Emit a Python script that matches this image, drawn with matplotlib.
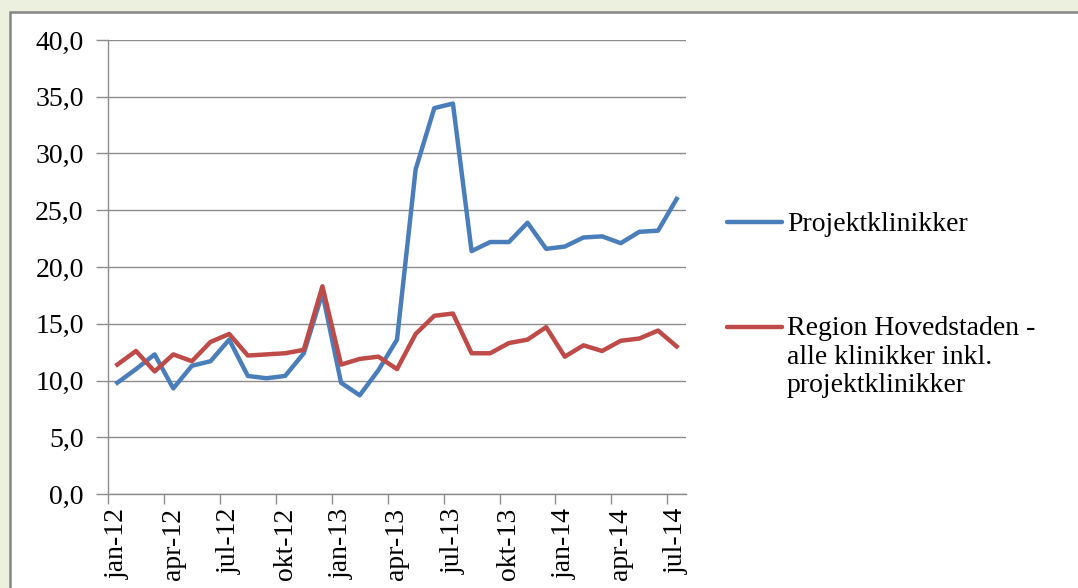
import matplotlib
matplotlib.use("Agg")
import matplotlib.pyplot as plt
from matplotlib.patches import Rectangle
from matplotlib.lines import Line2D

# ---------- Data ----------
months = ["jan-12", "feb-12", "mar-12", "apr-12", "maj-12", "jun-12",
          "jul-12", "aug-12", "sep-12", "okt-12", "nov-12", "dec-12",
          "jan-13", "feb-13", "mar-13", "apr-13", "maj-13", "jun-13",
          "jul-13", "aug-13", "sep-13", "okt-13", "nov-13", "dec-13",
          "jan-14", "feb-14", "mar-14", "apr-14", "maj-14", "jun-14",
          "jul-14"]
projekt = [9.8, 11.0, 12.3, 9.3, 11.3, 11.7, 13.6, 10.4, 10.2, 10.4,
           12.4, 17.7, 9.8, 8.7, 10.9, 13.6, 28.6, 34.0, 34.4, 21.4,
           22.2, 22.2, 23.9, 21.6, 21.8, 22.6, 22.7, 22.1, 23.1, 23.2,
           26.0]
region = [11.4, 12.6, 10.8, 12.3, 11.7, 13.4, 14.1, 12.2, 12.3, 12.4,
          12.7, 18.3, 11.4, 11.9, 12.1, 11.0, 14.1, 15.7, 15.9, 12.4,
          12.4, 13.3, 13.6, 14.7, 12.1, 13.1, 12.6, 13.5, 13.7, 14.4,
          13.0]
y_ticks = [0, 5, 10, 15, 20, 25, 30, 35, 40]
y_labels = ["0,0", "5,0", "10,0", "15,0", "20,0", "25,0", "30,0", "35,0", "40,0"]
series_labels = ["Projektklinikker",
                 "Region Hovedstaden -\nalle klinikker inkl.\nprojektklinikker"]

BLUE = "#4A7EBB"
RED = "#BE4B48"
GRID = "#8C8C8C"
FONT = "Liberation Serif"
FS = 20
LW = 3.2

W, H = 1078, 588
fig = plt.figure(figsize=(W / 100, H / 100), dpi=100)
fig.patch.set_facecolor("#EBF1DE")

# white chart panel with gray frame (behind the axes)
fig.add_artist(Rectangle((10 / W, -0.05), 1.1, (H - 12) / H + 0.05,
                         transform=fig.transFigure, facecolor="white",
                         edgecolor="#868686", linewidth=1.8, zorder=-10))

ax = fig.add_axes([108 / W, (H - 494) / H, (686 - 108) / W, (494 - 40) / H])
ax.set_facecolor("none")

x = list(range(len(months)))
ax.plot(x, projekt, color=BLUE, linewidth=LW, solid_joinstyle="round")
ax.plot(x, region, color=RED, linewidth=LW, solid_joinstyle="round")

ax.set_xlim(-0.5, len(months) - 0.5)
ax.set_ylim(0, 40)

ax.set_yticks(y_ticks)
ax.set_yticklabels(y_labels, fontfamily=FONT, fontsize=FS)
ax.yaxis.grid(True, color=GRID, linewidth=1.0)
ax.set_axisbelow(True)

# labels at category centres, tick marks at boundaries
lab_pos = x[::3]
ax.set_xticks(lab_pos)
ax.set_xticklabels([months[i] for i in lab_pos], rotation=90,
                   fontfamily=FONT, fontsize=FS)
ax.set_xticks([p - 0.5 for p in lab_pos], minor=True)
ax.tick_params(axis="x", which="major", length=0, pad=10)
ax.tick_params(axis="x", which="minor", length=7, color=GRID, width=1.0)
ax.tick_params(axis="y", length=9, color=GRID, width=1.0, pad=8.5)

for s in ["top", "right"]:
    ax.spines[s].set_visible(False)
for s in ["left", "bottom"]:
    ax.spines[s].set_color(GRID)
    ax.spines[s].set_linewidth(1.0)

# manual legend (handle aligned to first line of its label)
LINE_STEP = 28.5
for color, label, ymid, ybase in [(BLUE, series_labels[0], 222, 231),
                                  (RED, series_labels[1], 327, 335)]:
    fig.add_artist(Line2D([727 / W, 782 / W], [1 - ymid / H, 1 - ymid / H],
                          transform=fig.transFigure, color=color,
                          linewidth=LW, solid_capstyle="round"))
    for k, line in enumerate(label.split("\n")):
        fig.text(787 / W, 1 - (ybase + k * LINE_STEP) / H, line,
                 fontfamily=FONT, fontsize=FS, va="baseline", ha="left")

fig.savefig("out.png", dpi=100, facecolor=fig.get_facecolor())
